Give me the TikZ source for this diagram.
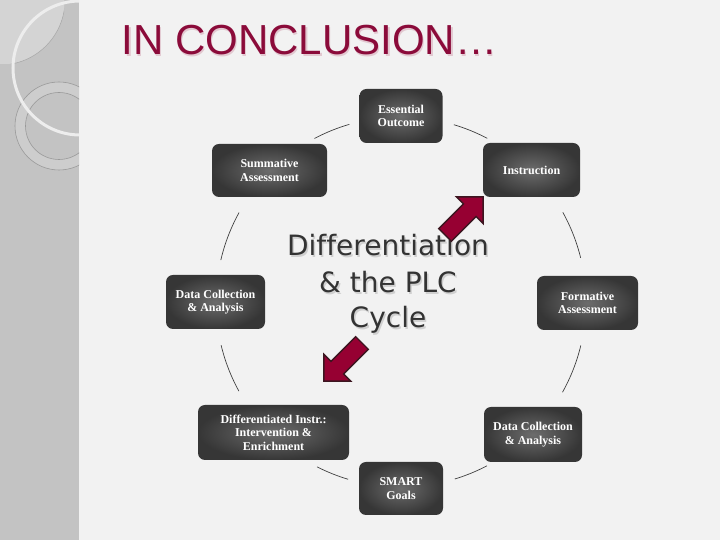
\documentclass[tikz,border=0pt]{standalone}
\usepackage{fontspec}
\setmainfont{Liberation Serif}
\newfontfamily\titlefont{Liberation Sans}
\newfontfamily\centerfont[Ligatures={NoCommon}]{DejaVu Sans}
\definecolor{bgmain}{HTML}{F2F2F2}
\definecolor{strip}{HTML}{C3C3C3}
\definecolor{stripl}{HTML}{D4D4D4}
\definecolor{ring}{HTML}{CDCDCD}
\definecolor{boxin}{HTML}{6C6C6C}
\definecolor{boxout}{HTML}{363636}
\definecolor{titlecol}{RGB}{139,11,58}
\definecolor{titleshadow}{RGB}{226,200,208}
\definecolor{arrfill}{RGB}{150,0,50}
\definecolor{arrline}{RGB}{60,22,32}
\definecolor{ctext}{HTML}{333333}
\definecolor{cshadow}{HTML}{D0D0D0}
\tikzset{
  box/.style={shade, inner color=boxin, outer color=boxout, rounded corners=7pt,
    text=white, align=center, inner sep=2pt,
    font=\bfseries\fontsize{12}{13.5}\selectfont},
  conn/.style={draw=black!75, line width=0.7pt},
  bigarrow/.style={fill=arrfill, draw=arrline, line width=1.4pt, line join=miter},
  ctxt/.style={text=ctext, font=\centerfont\fontsize{28}{36}\selectfont, anchor=base},
  cshad/.style={text=cshadow, font=\centerfont\fontsize{28}{36}\selectfont, anchor=base}
}
\begin{document}
\begin{tikzpicture}[x=1pt,y=1pt]
\useasboundingbox (0,0) rectangle (720,540);
% background
\fill[bgmain] (0,0) rectangle (720,540);
\fill[strip] (0,0) rectangle (79,540);
\begin{scope}
  \clip (0,0) rectangle (79,540);
  % light square
  \begin{scope}
    \clip (0,476) rectangle (64,540);
    \fill[stripl] (0,540) circle[radius=65];
    \draw[black!35, line width=0.5pt] (0,540) circle[radius=65];
  \end{scope}
  % ring
  \fill[ring, even odd rule] (59,414) circle[radius=44] (59,414) circle[radius=33.5];
  \draw[black!40, line width=0.6pt] (59,414) circle[radius=44];
  \draw[black!40, line width=0.6pt] (59,414) circle[radius=33.5];
  % white circle
  \draw[white!93!black, line width=3pt] (80,472) circle[radius=67];
\end{scope}
% title
\node[anchor=base west, text=titleshadow, font=\titlefont\fontsize{42}{48}\selectfont] at (119.5,483.5) {IN CONCLUSION…};
\node[anchor=base west, text=titlecol, font=\titlefont\fontsize{42}{48}\selectfont] (title) at (118,485) {IN CONCLUSION…};
% cycle connectors
\coordinate (cen) at (401,238);
\foreach \a/\b in {73.4/62.2, 106.2/117.9, 151.1/166.9, 193.5/208.8, 243/253.4, 286.9/297.7, 330.8/346.4, 13.8/29}{
  \draw[conn] ([shift={(\a:185)}]cen) arc[start angle=\a, end angle=\b, radius=185];
}
% boxes
\node[box, minimum width=83pt, minimum height=54pt] (E) at (401,424) {Essential\\Outcome};
\node[box, minimum width=115pt, minimum height=53pt] (S) at (269.5,369.5) {Summative\\Assessment};
\node[box, minimum width=97pt, minimum height=54pt] (I) at (531.5,370) {Instruction};
\node[box, minimum width=99pt, minimum height=54pt] (DL) at (215.5,238) {Data Collection\\\& Analysis};
\node[box, minimum width=101pt, minimum height=54pt] (F) at (587.5,237) {Formative\\Assessment};
\node[box, minimum width=151pt, minimum height=55pt] (D) at (273.5,107.5) {Differentiated Instr.:\\Intervention \&\\Enrichment};
\node[box, minimum width=98pt, minimum height=55pt] (DR) at (533,105.5) {Data Collection\\\& Analysis};
\node[box, minimum width=84pt, minimum height=53pt] (G) at (401,51.5) {SMART\\Goals};
% center text
\node[cshad] at (389.5,282.5) {Differentiation};
\node[cshad] at (389.5,245.5) {\& the PLC};
\node[cshad] at (389.5,210.5) {Cycle};
\node[ctxt] (t1) at (388,284) {Differentiation};
\node[ctxt] (t2) at (388,247) {\& the PLC};
\node[ctxt] (t3) at (388,212) {Cycle};
% block arrows
\draw[bigarrow, shift={(445,305)}, rotate=45] (0,-9) -- (35,-9) -- (35,-19) -- (54,0) -- (35,19) -- (35,9) -- (0,9) -- cycle;
\draw[bigarrow, shift={(362,197)}, rotate=225] (0,-9) -- (35,-9) -- (35,-19) -- (54,0) -- (35,19) -- (35,9) -- (0,9) -- cycle;
\end{tikzpicture}
\end{document}
